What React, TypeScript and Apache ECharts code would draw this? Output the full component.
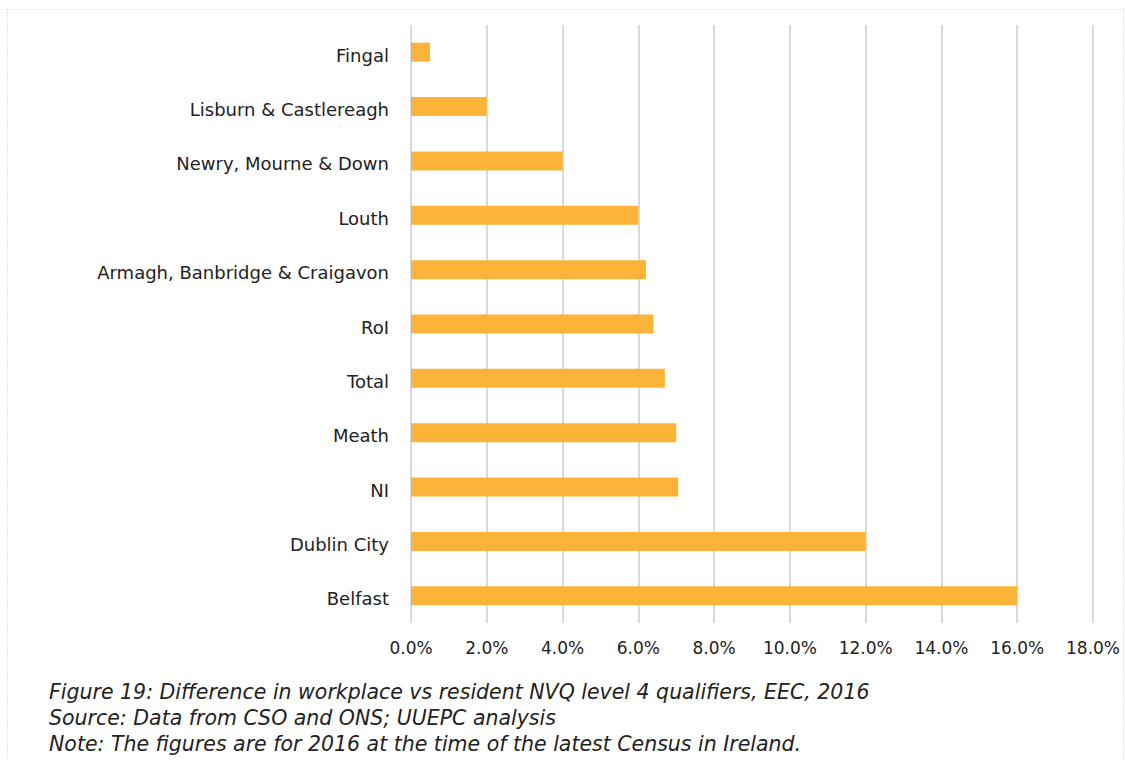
import React, { useEffect, useRef } from "react";
import * as echarts from "echarts";

const categories = [
  "Fingal",
  "Lisburn & Castlereagh",
  "Newry, Mourne & Down",
  "Louth",
  "Armagh, Banbridge & Craigavon",
  "RoI",
  "Total",
  "Meath",
  "NI",
  "Dublin City",
  "Belfast",
];
const values = [0.5, 2.0, 4.0, 6.0, 6.2, 6.4, 6.7, 7.0, 7.05, 12.0, 16.0];
const captionLines = [
  "Figure 19: Difference in workplace vs resident NVQ level 4 qualifiers, EEC, 2016",
  "Source: Data from CSO and ONS; UUEPC analysis",
  "Note: The figures are for 2016 at the time of the latest Census in Ireland.",
];

const FONT = "'DejaVu Sans', sans-serif";

export default function App() {
  const ref = useRef<HTMLDivElement>(null);
  useEffect(() => {
    if (!ref.current) return;
    const chart = echarts.init(ref.current, null, { renderer: "svg" });
    chart.setOption({
      animation: false,
      backgroundColor: "#ffffff",
      grid: { left: 411, right: 32, top: 25, bottom: 137, containLabel: false },
      xAxis: {
        type: "value",
        min: 0,
        max: 18,
        interval: 2,
        axisLine: { show: false },
        axisTick: { show: false },
        splitLine: { show: true, lineStyle: { color: "#d9d9d9", width: 2 } },
        axisLabel: {
          formatter: (v: number) => v.toFixed(1) + "%",
          fontFamily: FONT,
          fontSize: 17,
          color: "#222222",
          margin: 16,
        },
      },
      yAxis: {
        type: "category",
        data: categories,
        inverse: true,
        axisLine: { show: false },
        axisTick: { show: false },
        splitLine: { show: false },
        axisLabel: {
          fontFamily: FONT,
          fontSize: 18,
          color: "#222222",
          margin: 22,
          verticalAlign: "top",
          lineHeight: 6,
        },
      },
      series: [
        {
          type: "bar",
          data: values,
          barWidth: 19,
          itemStyle: { color: "#fbb33a" },
        },
      ],
      graphic: [
        {
          type: "rect",
          shape: { x: 7.5, y: 9.5, width: 1116, height: 800 },
          style: { fill: "none", stroke: "#cccccc", lineWidth: 1, lineDash: [1, 2] },
          silent: true,
        },
        ...captionLines.map((t, i) => ({
          type: "text",
          left: 49,
          top: 682 + i * 26,
          style: {
            text: t,
            fontFamily: FONT,
            fontStyle: "italic",
            fontSize: 20.5,
            fill: "#222222",
          },
        })),
      ],
    });
    return () => chart.dispose();
  }, []);
  return (
    <div
      ref={ref}
      style={{ position: "fixed", left: 0, top: 0, width: 1125, height: 760 }}
    />
  );
}
